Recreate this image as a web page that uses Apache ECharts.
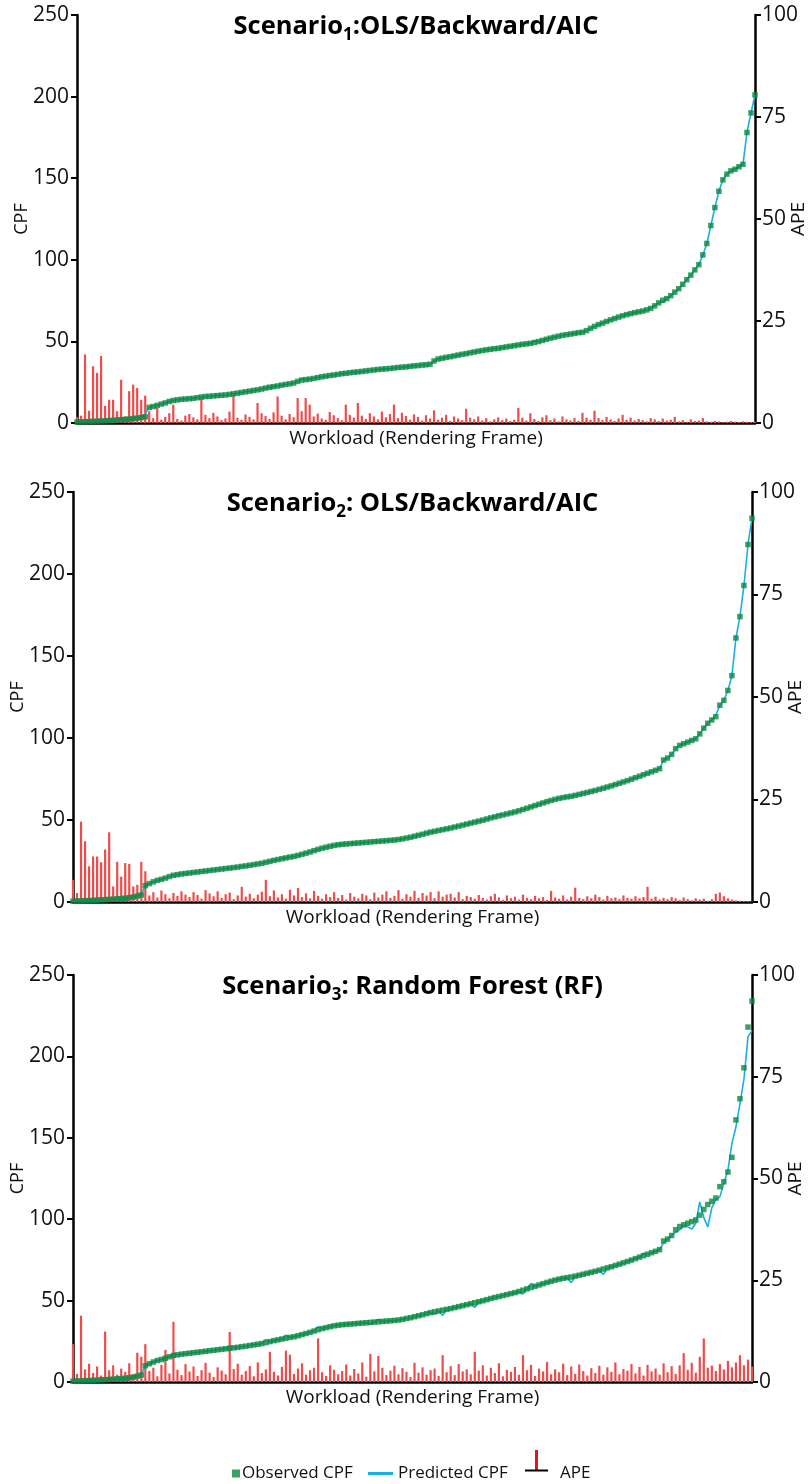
<!DOCTYPE html>
<html><head><meta charset="utf-8">
<script src="https://cdn.jsdelivr.net/npm/echarts/dist/echarts.min.js"></script>
<style>html,body{margin:0;padding:0;background:#fff}#c{width:812px;height:1484px}</style>
</head><body><div id="c"></div>
<script>
// ---------- DATA ----------
const titles = [
  ['Scenario', '1', ':OLS/Backward/AIC'],
  ['Scenario', '2', ': OLS/Backward/AIC'],
  ['Scenario', '3', ': Random Forest (RF)']
];
const cpfTicks = [0, 50, 100, 150, 200, 250];
const apeTicks = [0, 25, 50, 75, 100];

// Scenario 1 observed CPF (sorted frames)
const observed1 = [0.6,0.7,0.8,0.9,1.0,1.1,1.2,1.3,1.5,1.6,1.8,2.0,2.2,2.4,2.7,3.0,3.4,3.8,
9.6,10.1,10.8,11.6,12.3,13.2,13.8,14.2,14.5,14.7,14.9,15.1,
15.5,15.9,16.2,16.4,16.6,16.8,17.0,17.2,17.5,17.9,
18.3,18.7,19.1,19.5,19.9,20.3,20.8,21.4,21.9,22.3,
22.7,23.2,23.6,24.0,24.5,25.5,26.3,26.6,26.9,27.3,
27.8,28.3,28.7,29.1,29.4,29.8,30.2,30.5,30.8,31.1,
31.3,31.6,31.9,32.2,32.5,32.8,33.0,33.2,33.4,33.7,
34.0,34.2,34.4,34.7,35.0,35.2,35.5,35.7,36.0,38.0,
39.2,39.7,40.2,40.6,41.1,41.6,42.1,42.5,43.0,43.5,
44.0,44.4,44.8,45.2,45.5,45.8,46.2,46.6,47.0,47.4,
47.8,48.2,48.5,48.8,49.3,49.9,50.6,51.3,52.0,52.6,
53.2,53.7,54.1,54.5,54.9,55.3,55.6,56.6,58.0,59.2,
60.3,61.2,62.2,63.2,64.0,64.9,65.7,66.4,67.0,67.6,
68.1,68.6,69.3,70.2,71.8,73.6,75.2,76.2,78.0,80.2,
82.3,85.0,87.8,90.6,93.8,97.0,103,110,121,132,
142,149,152.5,154.5,155.5,157,158.5,178,190,201];
const predicted1 = [0.6,0.7,0.8,0.9,1.0,1.1,1.2,1.3,1.5,1.6,1.8,2.0,2.2,2.4,2.7,3.0,3.4,5.5,
9.6,10.1,10.8,11.6,12.3,13.2,13.8,14.2,14.5,14.7,14.9,15.1,
15.5,15.9,16.2,16.4,16.6,16.8,17.0,17.2,17.5,17.9,
18.3,18.7,19.1,19.5,19.9,20.3,20.8,21.4,21.9,22.3,
22.7,23.2,23.6,24.0,24.5,25.5,27.0,26.6,26.9,27.3,
27.8,28.3,28.7,29.1,29.4,29.8,30.2,30.5,30.8,31.1,
31.3,31.6,31.9,32.2,32.5,32.8,33.0,33.2,33.4,33.7,
34.0,34.2,34.4,34.7,35.0,35.2,35.5,35.7,36.0,38.0,
39.2,39.7,40.2,40.6,41.1,41.6,42.1,42.5,43.0,43.5,
44.0,44.4,44.8,45.2,45.5,45.8,46.2,46.6,47.0,47.4,
47.8,48.2,48.5,48.8,50.2,49.9,50.6,51.3,52.0,52.6,
53.2,53.7,54.1,54.5,54.9,55.3,55.6,56.6,58.0,59.2,
60.3,61.2,62.2,63.2,64.0,64.9,65.7,66.4,67.0,67.6,
68.1,68.6,69.3,70.2,71.8,73.6,74.2,76.2,78.0,80.2,
82.3,85.0,87.8,90.6,93.8,97.0,103,110,121,132,
142,149,152.5,154.5,155.5,157,158.5,178,190,201];
const ape1 = [1.5,1.8,16.8,3.0,13.9,12.3,16.4,4.2,5.7,5.7,2.9,10.6,1.6,7.8,9.4,8.6,5.7,6.7,
2.9,1.2,3.7,0.8,1.5,2.4,4.5,1.0,0.6,1.8,2.2,1.4,
0.9,6.1,2.0,1.2,2.5,1.6,0.7,1.1,2.8,6.9,
1.3,0.8,2.1,1.5,0.9,4.9,2.4,1.7,1.0,2.6,
6.5,1.8,0.9,2.2,1.4,6.1,2.9,6.1,4.5,1.6,
2.3,1.1,0.8,2.7,1.9,1.2,0.7,4.5,2.0,1.3,
4.9,1.8,1.0,2.4,1.6,0.9,2.8,1.4,2.2,4.5,
1.2,2.5,1.7,0.8,2.1,1.5,0.6,1.9,1.1,3.1,
0.8,1.3,2.0,0.5,1.6,1.1,0.7,3.5,1.3,0.9,
1.6,0.6,1.2,0.4,0.9,1.4,0.7,1.1,0.5,0.8,
3.7,1.3,0.6,2.4,1.0,0.5,1.4,1.9,0.7,1.1,
0.4,1.6,0.9,0.6,1.2,0.5,2.5,1.3,0.8,3.0,
1.2,0.7,1.5,0.9,0.5,1.1,2.0,0.8,1.3,0.6,
1.0,0.7,0.4,1.2,0.9,0.5,1.1,0.6,0.8,1.5,
0.4,0.7,0.3,0.9,0.5,0.6,1.2,0.4,0.3,0.5,
0.4,0.2,0.3,0.5,0.3,0.2,0.4,0.3,0.2,0.3];

// Scenarios 2 and 3 share the same observed test frames
const observed23 = [0.5,0.6,0.7,0.8,0.9,1.0,1.1,1.3,1.4,1.6,1.7,1.9,2.1,2.3,2.6,3.0,3.6,4.3,
10.0,11.2,12.3,13.2,13.8,14.6,15.5,16.3,16.7,17.1,17.4,17.7,
18.0,18.3,18.6,18.9,19.2,19.5,19.8,20.1,20.4,20.7,
21.0,21.3,21.7,22.0,22.4,22.8,23.2,23.6,24.2,24.8,
25.4,25.9,26.4,26.9,27.4,27.8,28.4,29.1,29.8,30.5,
31.3,32.1,32.8,33.4,34.0,34.5,34.9,35.2,35.4,35.6,
35.8,36.0,36.2,36.4,36.6,36.8,37.0,37.2,37.4,37.6,
37.8,38.1,38.5,39.0,39.5,40.1,40.7,41.3,42.0,42.6,
43.1,43.6,44.1,44.6,45.1,45.7,46.3,46.9,47.5,48.1,
48.7,49.3,49.9,50.6,51.3,51.9,52.5,53.1,53.7,54.3,
54.9,55.6,56.4,57.2,58.0,58.8,59.6,60.4,61.2,61.9,
62.6,63.2,63.7,64.1,64.5,65.0,65.6,66.2,66.8,67.4,
68.0,68.7,69.4,70.1,70.8,71.6,72.4,73.2,74.0,74.9,
75.8,76.7,77.6,78.5,79.4,80.3,81.3,86.6,87.8,90.0,
93.5,95.5,96.5,97.5,98.5,99.5,102.5,106,109,111,
113,120,123,129,138,161,174,193,218,234];
const predicted2 = [0.5,0.6,0.7,0.8,0.9,1.0,1.1,1.3,1.4,1.6,1.7,1.9,2.1,2.3,2.6,3.0,3.6,4.3,
10.0,11.2,12.3,13.2,13.8,14.6,15.5,16.3,16.7,17.1,17.4,17.7,
18.0,18.3,18.6,18.9,19.2,19.5,19.8,20.1,20.4,20.7,
21.0,21.3,21.7,22.0,22.4,22.8,23.2,23.6,24.2,24.8,
25.4,25.9,26.4,26.9,27.4,27.8,28.4,29.1,29.8,30.5,
31.3,32.1,32.8,33.4,34.0,34.5,34.9,35.2,35.4,35.6,
35.8,36.0,36.2,36.4,36.6,36.8,37.0,37.2,37.4,37.6,
37.8,38.1,38.5,39.0,39.5,40.1,40.7,41.3,42.0,42.6,
43.1,43.6,44.1,44.6,45.1,45.7,46.3,46.9,47.5,48.1,
48.7,49.3,49.9,50.6,51.3,51.9,53.5,53.1,53.7,54.3,
54.9,55.6,56.4,57.2,58.0,58.8,59.6,60.4,61.2,61.9,
62.6,63.2,63.7,64.1,64.5,65.0,65.6,66.2,66.8,67.4,
68.0,68.7,69.4,70.1,70.8,71.6,72.4,73.2,74.0,74.9,
75.8,76.7,77.6,78.5,79.4,80.3,81.3,86.6,87.8,90.0,
93.5,95.5,96.5,97.5,98.5,99.5,102.5,106,109,111,
114,120,123,129,138,161,174,193,218,234];
const ape2 = [5.4,2.2,19.6,14.8,8.7,11.1,11.1,9.7,12.8,17.0,3.8,9.8,6.2,9.5,9.3,3.8,4.2,9.8,7.5,
1.6,2.4,1.1,2.8,1.9,0.9,2.2,1.5,2.6,1.8,1.2,
2.4,1.7,0.8,2.9,2.1,1.4,2.6,1.0,1.9,2.3,
0.7,1.6,3.7,1.3,2.0,0.9,1.8,2.5,5.4,1.4,
2.8,1.1,1.9,0.8,3.0,1.6,3.4,1.2,2.1,0.9,
2.7,1.5,0.8,1.9,1.2,2.4,1.0,1.7,0.6,2.2,
1.3,0.9,2.0,1.6,0.7,2.3,1.1,1.8,2.6,1.0,
1.5,2.9,0.8,1.9,1.3,2.7,1.0,2.2,1.6,2.4,
0.9,2.6,1.3,1.8,2.0,1.1,2.4,0.7,1.5,1.2,
0.8,1.7,1.0,0.6,1.4,2.0,1.1,0.5,1.6,0.9,
1.3,0.6,1.8,1.0,0.7,1.5,0.9,1.2,0.5,2.7,
1.1,0.8,1.6,0.6,1.3,3.5,1.0,0.7,1.4,0.9,
1.8,1.2,0.6,1.5,0.9,1.1,0.7,1.6,1.0,0.8,
1.4,0.9,1.2,3.7,0.8,1.3,0.6,1.0,0.7,1.2,
0.9,0.5,1.1,0.7,0.4,0.9,0.6,0.8,0.3,0.7,
2.0,2.3,1.4,0.9,0.6,0.4,0.3,0.2,0.2,0.1];
const predicted3 = [0.5,0.6,0.7,0.8,0.9,1.0,1.1,1.3,1.4,1.6,1.7,1.9,2.1,2.3,2.6,3.0,3.6,4.3,
10.0,11.2,12.3,13.2,13.8,14.6,15.5,17.5,16.7,17.1,17.4,17.7,
18.0,18.3,18.6,18.9,19.2,19.5,19.8,20.1,20.4,22.5,
21.0,21.3,21.7,22.0,22.4,22.8,23.2,23.6,26.0,24.8,
25.4,25.9,26.4,28.8,27.4,27.8,28.4,29.1,29.8,30.5,
31.3,34.0,32.8,33.4,34.0,34.5,34.9,35.2,35.4,35.6,
35.8,36.0,36.2,36.4,35.5,36.8,38.5,37.2,37.4,37.6,
37.8,38.1,38.5,39.0,39.5,40.1,40.7,41.3,42.0,42.6,
41.8,43.6,41.0,44.6,45.1,45.7,46.3,46.9,47.5,48.1,
45.8,49.3,49.9,50.6,51.3,51.9,52.5,53.1,53.7,54.3,
54.9,55.6,54.0,57.2,60.5,58.8,59.6,60.4,61.2,61.9,
62.6,63.2,63.7,64.1,61.0,65.0,65.6,66.2,66.8,67.4,
68.0,68.7,66.0,70.1,70.8,71.6,72.4,73.2,74.0,74.9,
75.8,76.7,79.0,78.5,79.4,80.3,81.3,85.5,87.8,90.0,
92.0,93.5,96.0,95.3,94.0,97.5,110.6,101,95.3,107,
112,113.7,122,130,146.6,156.6,171,186,212,216];
const ape3 = [9.3,2.0,16.3,3.1,4.5,2.2,3.8,1.6,12.4,2.9,4.1,1.8,3.3,2.5,4.6,1.9,7.2,6.2,9.3,
2.7,3.5,1.4,4.2,7.9,2.1,14.8,3.0,1.7,4.4,2.6,
3.8,1.5,2.9,4.7,2.3,1.2,3.6,2.8,1.9,12.3,
3.2,4.5,1.8,2.7,3.9,1.4,4.8,2.2,3.1,7.4,
2.5,1.6,3.7,7.7,6.7,2.0,3.3,4.6,1.8,2.9,
3.5,10.7,2.4,1.5,4.1,3.0,1.9,2.7,4.3,1.6,
3.2,2.1,4.8,1.3,6.9,2.6,6.4,3.5,1.7,2.8,
4.0,1.9,3.4,2.5,1.2,4.7,2.3,3.6,1.8,2.9,
3.3,1.5,6.6,2.4,3.9,1.7,4.4,2.6,3.1,1.9,
7.4,2.8,4.1,1.6,3.5,2.2,4.6,1.4,3.0,2.5,
3.7,1.8,6.6,2.9,4.2,1.5,3.3,2.6,4.9,1.9,
3.1,2.4,4.5,1.7,3.8,2.0,4.3,2.7,1.6,3.4,
2.2,4.0,1.8,3.6,2.5,4.8,1.9,3.2,2.8,4.4,
2.1,3.7,1.6,4.2,2.6,3.3,1.8,4.6,2.4,3.9,
2.0,4.1,7.1,3.0,4.7,2.3,6.2,10.7,3.5,4.0,
2.7,4.4,3.1,5.2,3.6,4.8,6.6,4.1,5.5,3.8];

const xCats = observed1.map((_, i) => String(i + 1));

// ---------- CHART ----------
const FONT = "'Open Sans', 'Noto Sans', sans-serif";
const GREEN = '#0a8a3e', BLUE = '#1aaee6', RED = '#ef4b4b';
const grids = [
  {left: 77, top: 15, width: 678, height: 408},
  {left: 73, top: 492, width: 679, height: 410},
  {left: 73, top: 975, width: 679, height: 407}
];
const panels = [
  {obs: observed1, pred: predicted1, ape: ape1},
  {obs: observed23, pred: predicted2, ape: ape2},
  {obs: observed23, pred: predicted3, ape: ape3}
];

const gridOpt = [], xAxes = [], yAxes = [], series = [], graphics = [];
grids.forEach((g, k) => {
  gridOpt.push(Object.assign({outerBoundsMode: 'none', containLabel: false}, g));
  xAxes.push({
    type: 'category', gridIndex: k, data: xCats, boundaryGap: false,
    axisLine: {show: true, onZero: false, lineStyle: {color: '#000', width: 2.5}},
    axisTick: {show: false}, axisLabel: {show: false}, splitLine: {show: false},
    name: 'Workload (Rendering Frame)', nameLocation: 'middle', nameGap: 6, nameMoveOverlap: false,
    nameTextStyle: {fontSize: 19, color: '#111', fontFamily: FONT, verticalAlign: 'top'}
  });
  yAxes.push({
    type: 'value', gridIndex: k, position: 'left', min: cpfTicks[0], max: cpfTicks[cpfTicks.length - 1], interval: 50,
    axisLine: {show: true, lineStyle: {color: '#000', width: 2.5}},
    axisTick: {show: true, length: 6, lineStyle: {color: '#000', width: 2}},
    axisLabel: {color: '#111', fontSize: 21, margin: 8, fontFamily: FONT},
    splitLine: {show: false},
    name: 'CPF', nameLocation: 'middle', nameGap: 46, nameRotate: 90, nameMoveOverlap: false,
    nameTextStyle: {fontSize: 18, color: '#111', fontFamily: FONT}
  });
  yAxes.push({
    type: 'value', gridIndex: k, position: 'right', min: apeTicks[0], max: apeTicks[apeTicks.length - 1], interval: 25,
    axisLine: {show: true, lineStyle: {color: '#000', width: 2.5}},
    axisTick: {show: true, length: 6, lineStyle: {color: '#000', width: 2}},
    axisLabel: {color: '#111', fontSize: 21, margin: 7, fontFamily: FONT},
    splitLine: {show: false},
    name: 'APE', nameLocation: 'middle', nameGap: 34, nameRotate: 90, nameMoveOverlap: false,
    nameTextStyle: {fontSize: 19, color: '#111', fontFamily: FONT}
  });
  const p = panels[k];
  series.push({
    type: 'bar', name: 'APE', xAxisIndex: k, yAxisIndex: 2 * k + 1, data: p.ape,
    barWidth: 2.2, itemStyle: {color: RED}, z: 1, silent: true
  });
  series.push({
    type: 'line', name: 'Predicted CPF', xAxisIndex: k, yAxisIndex: 2 * k, data: p.pred,
    symbol: 'none', lineStyle: {color: BLUE, width: 1.6}, itemStyle: {color: BLUE}, z: 2, silent: true
  });
  series.push({
    type: 'scatter', name: 'Observed CPF', xAxisIndex: k, yAxisIndex: 2 * k, data: p.obs,
    symbol: 'rect', symbolSize: 5.5, itemStyle: {color: GREEN}, z: 3, silent: true
  });
  const t = titles[k];
  const cx = g.left + g.width / 2;
  graphics.push({
    type: 'text', x: cx, y: g.top + 12, z: 10,
    style: {
      text: '{a|' + t[0] + '}{s|' + t[1] + '}{a|' + t[2] + '}',
      align: 'center', verticalAlign: 'middle',
      rich: {
        a: {fontSize: 25.5, fontWeight: 'bold', fontFamily: FONT, fill: '#000', lineHeight: 33},
        s: {fontSize: 17, fontWeight: 'bold', fontFamily: FONT, fill: '#000', lineHeight: 18, verticalAlign: 'bottom'}
      }
    }
  });
});

// APE legend symbol (red stem on black base)
graphics.push({type: 'rect', shape: {x: 535, y: 1450, width: 3, height: 20}, style: {fill: '#e8141a'}, z: 10});
graphics.push({type: 'rect', shape: {x: 525, y: 1469.5, width: 23, height: 2}, style: {fill: '#000'}, z: 10});

const chart = echarts.init(document.getElementById('c'), null, {renderer: 'canvas'});
chart.setOption({
  animation: false,
  backgroundColor: '#fff',
  grid: gridOpt, xAxis: xAxes, yAxis: yAxes, series: series,
  legend: [
    {data: [{name: 'Observed CPF', icon: 'rect'}], left: 227, top: 1460, itemWidth: 8, itemHeight: 8,
     itemStyle: {color: GREEN}, textStyle: {fontSize: 17, color: '#111', fontFamily: FONT, padding: [0, 0, 0, -3]}, selectedMode: false},
    {data: [{name: 'Predicted CPF', icon: 'rect'}], left: 363, top: 1460, itemWidth: 25, itemHeight: 3,
     itemStyle: {color: BLUE}, textStyle: {fontSize: 17, color: '#111', fontFamily: FONT}, selectedMode: false},
    {data: [{name: 'APE', icon: 'rect', itemStyle: {color: 'rgba(0,0,0,0)'}}], left: 549, top: 1460, itemWidth: 1, itemHeight: 9,
     textStyle: {fontSize: 17, color: '#111', fontFamily: FONT}, selectedMode: false}
  ],
  graphic: graphics
});
</script></body></html>
